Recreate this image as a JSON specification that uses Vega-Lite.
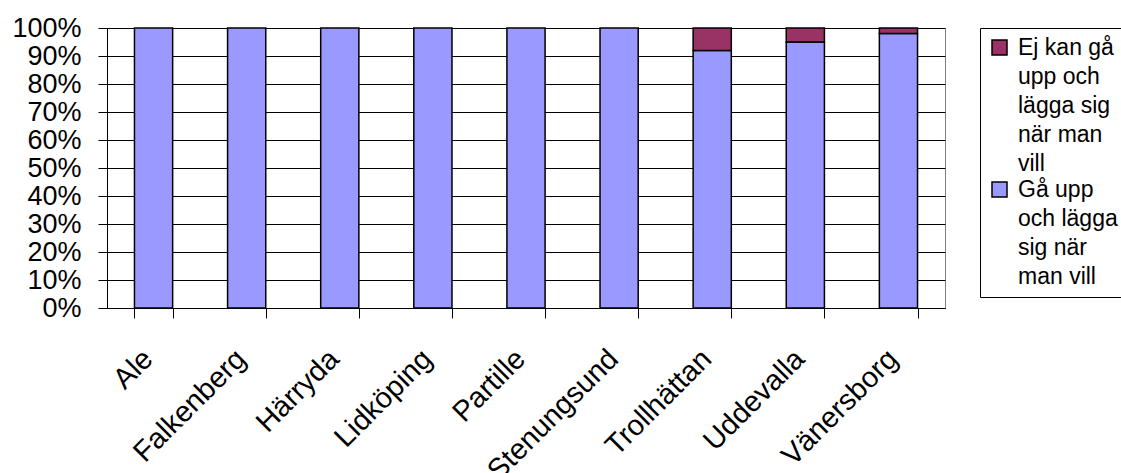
{
  "$schema": "https://vega.github.io/schema/vega-lite/v6.json",
  "width": 838,
  "height": 280,
  "autosize": {"type": "none"},
  "padding": {"left": 107, "top": 28, "right": 176, "bottom": 165},
  "background": "white",
  "config": {
    "view": {"stroke": "#808080", "strokeWidth": 1},
    "font": "Liberation Sans",
    "style": {"guide-label": {"lineHeight": 29}}
  },
  "data": {
    "values": [
      {"kommun": "Ale", "kategori": "Gå upp och lägga sig när man vill", "andel": 1.0},
      {"kommun": "Falkenberg", "kategori": "Gå upp och lägga sig när man vill", "andel": 1.0},
      {"kommun": "Härryda", "kategori": "Gå upp och lägga sig när man vill", "andel": 1.0},
      {"kommun": "Lidköping", "kategori": "Gå upp och lägga sig när man vill", "andel": 1.0},
      {"kommun": "Partille", "kategori": "Gå upp och lägga sig när man vill", "andel": 1.0},
      {"kommun": "Stenungsund", "kategori": "Gå upp och lägga sig när man vill", "andel": 1.0},
      {"kommun": "Trollhättan", "kategori": "Gå upp och lägga sig när man vill", "andel": 0.92},
      {"kommun": "Trollhättan", "kategori": "Ej kan gå upp och lägga sig när man vill", "andel": 0.08},
      {"kommun": "Uddevalla", "kategori": "Gå upp och lägga sig när man vill", "andel": 0.95},
      {"kommun": "Uddevalla", "kategori": "Ej kan gå upp och lägga sig när man vill", "andel": 0.05},
      {"kommun": "Vänersborg", "kategori": "Gå upp och lägga sig när man vill", "andel": 0.98},
      {"kommun": "Vänersborg", "kategori": "Ej kan gå upp och lägga sig när man vill", "andel": 0.02}
    ]
  },
  "mark": {"type": "bar", "stroke": "black", "strokeWidth": 1.5, "opacity": 1},
  "encoding": {
    "x": {
      "field": "kommun",
      "type": "nominal",
      "sort": null,
      "scale": {"paddingInner": 0.59, "paddingOuter": 0.295},
      "axis": {
        "title": null,
        "tickBand": "extent",
        "tickSize": 10,
        "tickColor": "black",
        "domainColor": "black",
        "labelAngle": -45,
        "labelAlign": "right",
        "labelBaseline": "middle",
        "labelFontSize": 29,
        "labelColor": "black",
        "labelPadding": 36,
        "labelOffset": -6,
        "labelLimit": 400
      }
    },
    "y": {
      "field": "andel",
      "type": "quantitative",
      "stack": true,
      "scale": {"domain": [0, 1], "nice": false},
      "axis": {
        "title": null,
        "values": [0, 0.1, 0.2, 0.3, 0.4, 0.5, 0.6, 0.7, 0.8, 0.9, 1.0],
        "format": ".0%",
        "grid": true,
        "gridColor": "black",
        "gridOpacity": 1,
        "gridWidth": 1,
        "tickSize": 9,
        "tickColor": "black",
        "domainColor": "black",
        "labelFontSize": 27,
        "labelColor": "black",
        "labelPadding": 17
      }
    },
    "color": {
      "field": "kategori",
      "type": "nominal",
      "scale": {
        "domain": ["Ej kan gå upp och lägga sig när man vill", "Gå upp och lägga sig när man vill"],
        "range": ["#993366", "#9999FF"]
      },
      "legend": {
        "title": null,
        "orient": "none",
        "legendX": 873,
        "legendY": 0,
        "strokeColor": "black",
        "padding": 8,
        "symbolType": "square",
        "symbolSize": 225,
        "symbolStrokeColor": "black",
        "symbolStrokeWidth": 1.5,
        "symbolOpacity": 1,
        "labelFontSize": 23,
        "labelColor": "black",
        "labelLimit": 300,
        "labelOffset": 7,
        "rowPadding": 2,
        "labelExpr": "datum.label == 'Ej kan gå upp och lägga sig när man vill' ? ['Ej kan gå','upp och','lägga sig','när man','vill'] : ['Gå upp','och lägga','sig när','man vill']"
      }
    },
    "order": {"field": "kategori", "sort": "descending"}
  }
}
